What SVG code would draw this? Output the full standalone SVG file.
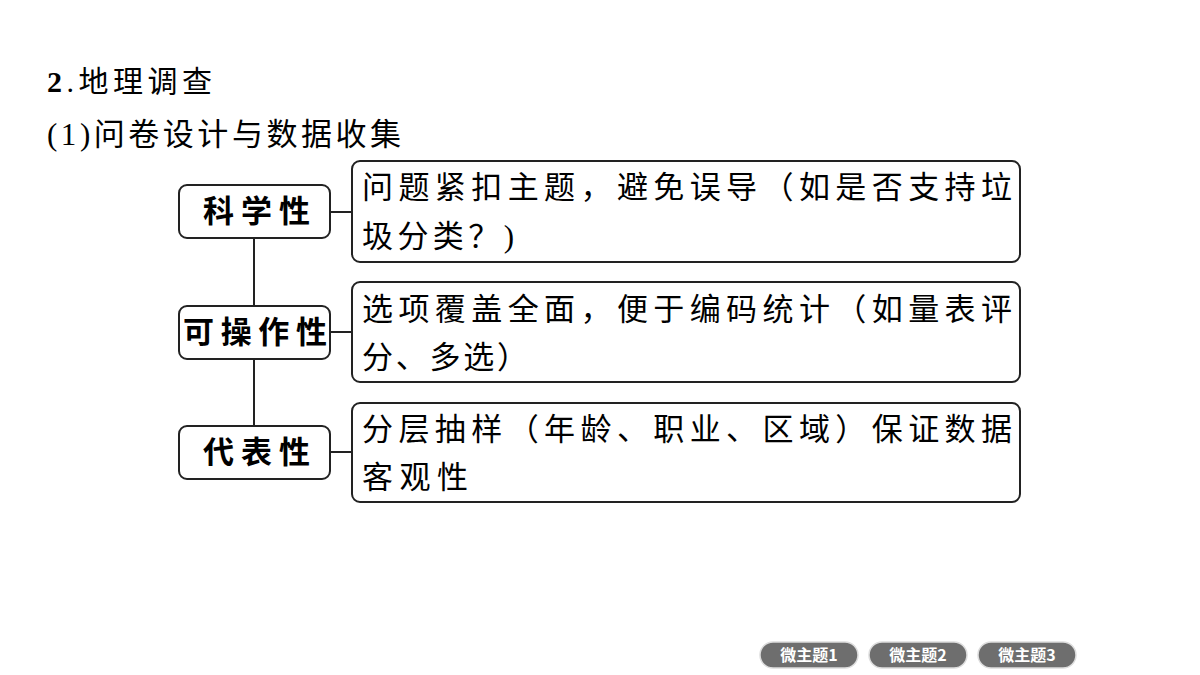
<svg xmlns="http://www.w3.org/2000/svg" width="1200" height="675" viewBox="0 0 1200 675">
<style>
text{font-family:"Liberation Serif","Noto Sans CJK SC",serif;fill:#000}
.k{font-family:"Noto Sans CJK SC",sans-serif;font-weight:bold;font-size:31px}
.t{font-family:"Liberation Serif","Noto Sans CJK SC",serif;font-size:31px}
.b{fill:#fff;stroke:#222;stroke-width:2}
.p{fill:#6e6e6e;stroke:#ddd;stroke-width:1.5}
.pt{font-family:"Noto Sans CJK SC",sans-serif;font-weight:bold;font-size:16px;fill:#fff;text-anchor:middle}
</style>
<rect width="1200" height="675" fill="#fff"/>
<text x="47" y="92" font-size="30" textLength="165" lengthAdjust="spacing"><tspan font-weight="bold">2</tspan>.地理调查</text>
<text x="47" y="145" font-size="31" textLength="354" lengthAdjust="spacing">(1)问卷设计与数据收集</text>
<g id="connectors" stroke="#222" stroke-width="2" fill="none">
<path d="M254 238V306M254 359V426M330 212H352M330 332H352M330 452H352"/>
</g>
<g id="n1"><rect class="b" x="179" y="185" width="151" height="53" rx="8"/><text class="k" x="203" y="222" textLength="107" lengthAdjust="spacing">科学性</text></g>
<g id="n2"><rect class="b" x="179" y="306" width="151" height="53" rx="8"/><text class="k" x="183" y="343" textLength="144" lengthAdjust="spacing">可操作性</text></g>
<g id="n3"><rect class="b" x="179" y="426" width="151" height="53" rx="8"/><text class="k" x="203" y="463" textLength="107" lengthAdjust="spacing">代表性</text></g>
<g id="d1"><rect class="b" x="352" y="161" width="668" height="101" rx="8"/><text class="t" x="362" y="198" textLength="650" lengthAdjust="spacing">问题紧扣主题，避免误导（如是否支持垃</text><text class="t" x="362" y="247" textLength="152" lengthAdjust="spacing">圾分类？)</text></g>
<g id="d2"><rect class="b" x="352" y="282" width="668" height="100" rx="8"/><text class="t" x="362" y="320" textLength="650" lengthAdjust="spacing">选项覆盖全面，便于编码统计（如量表评</text><text class="t" x="362" y="368" textLength="166" lengthAdjust="spacing">分、多选）</text></g>
<g id="d3"><rect class="b" x="352" y="403" width="668" height="99" rx="8"/><text class="t" x="362" y="440" textLength="650" lengthAdjust="spacing">分层抽样（年龄、职业、区域）保证数据</text><text class="t" x="362" y="488" textLength="106" lengthAdjust="spacing">客观性</text></g>
<g id="btn1"><rect class="p" x="760" y="642" width="98" height="26" rx="13"/><text class="pt" x="809" y="661">微主题1</text></g>
<g id="btn2"><rect class="p" x="869" y="642" width="98" height="26" rx="13"/><text class="pt" x="918" y="661">微主题2</text></g>
<g id="btn3"><rect class="p" x="978" y="642" width="98" height="26" rx="13"/><text class="pt" x="1027" y="661">微主题3</text></g>
</svg>
